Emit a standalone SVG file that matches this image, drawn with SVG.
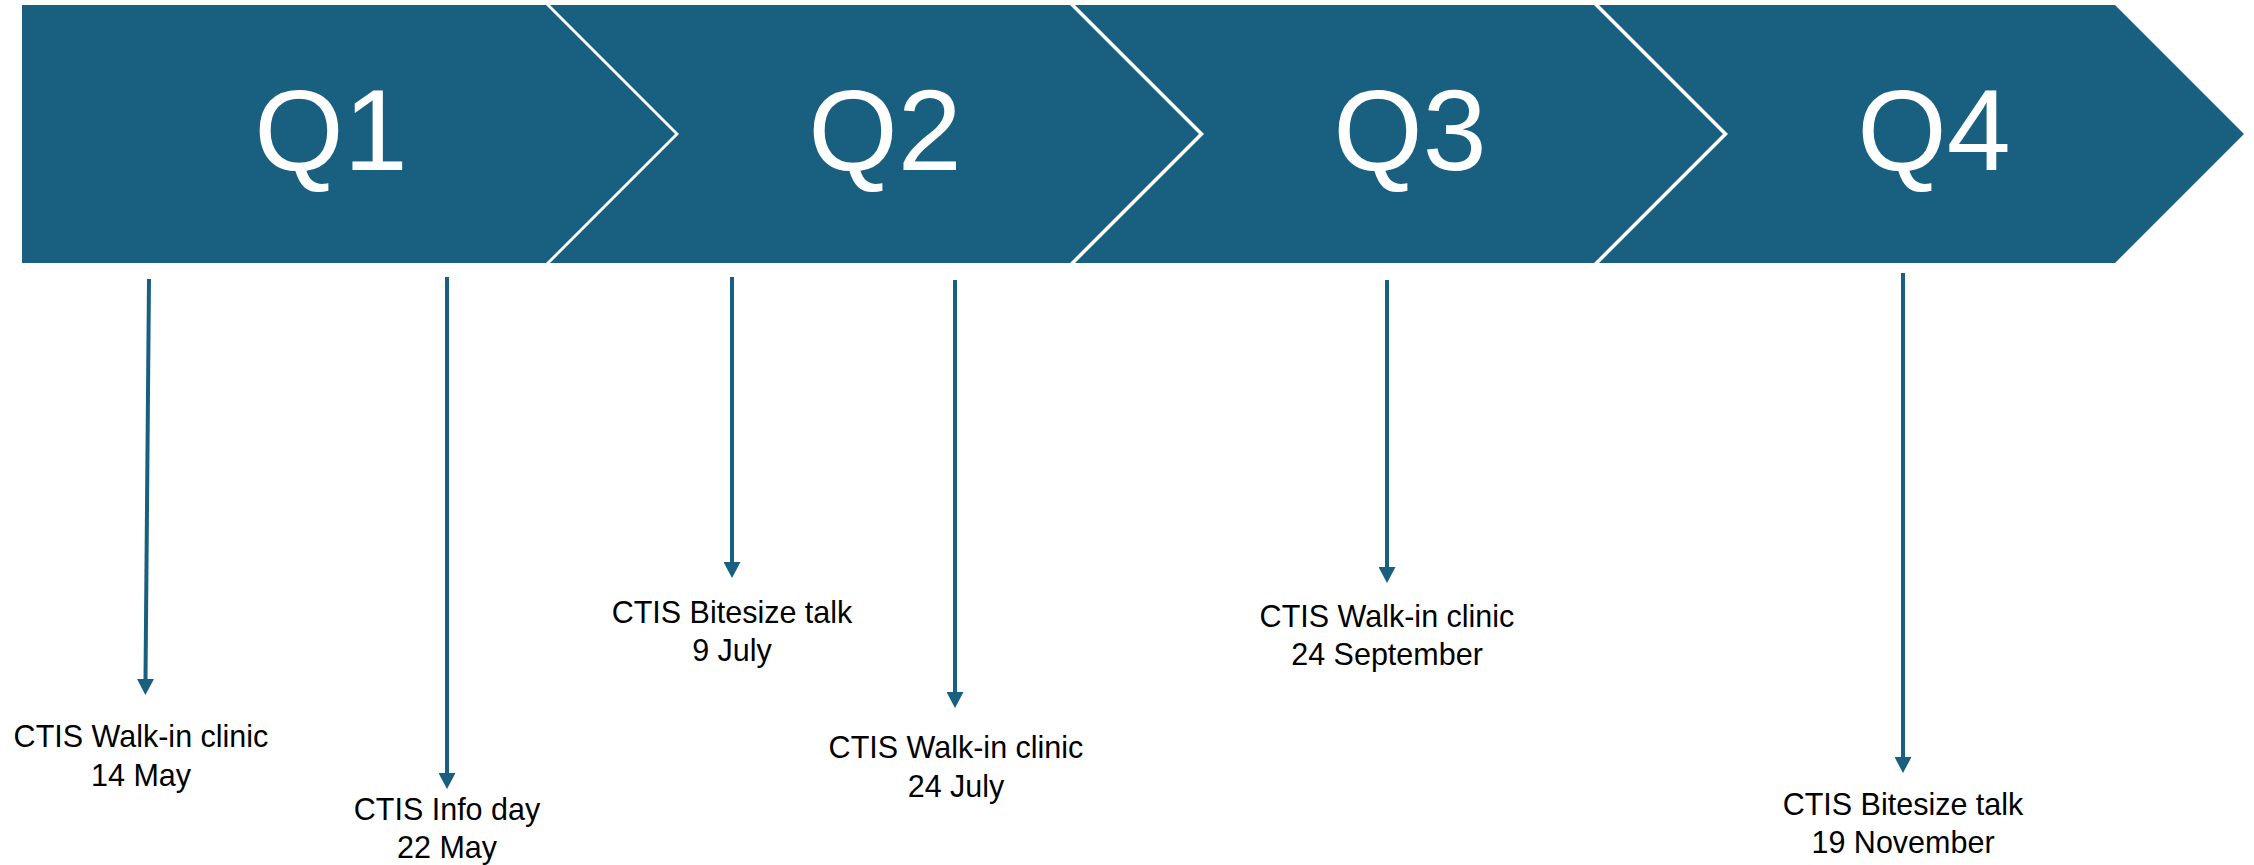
<svg xmlns="http://www.w3.org/2000/svg" width="2254" height="865" viewBox="0 0 2254 865">
  <style>
    .chev { fill: #185F80; }
    .q { font-family: "Liberation Sans", Arial, sans-serif; font-size: 115px; fill: #FFFFFF; text-anchor: middle; }
    .lbl { font-family: "Liberation Sans", Arial, sans-serif; font-size: 30.5px; fill: #000000; text-anchor: middle; }
    .conn { stroke: #185F80; stroke-width: 4; fill: none; marker-end: url(#arrow); }
  </style>
  <defs>
    <marker id="arrow" viewBox="0 0 16 17" refX="0" refY="8.5" markerWidth="16" markerHeight="17" markerUnits="userSpaceOnUse" orient="auto">
      <path d="M0,0 L16,8.5 L0,17 Z" fill="#185F80"/>
    </marker>
  </defs>
  <rect width="2254" height="865" fill="#FFFFFF"/>

  <g id="q1">
    <polygon class="chev" points="22,5 546,5 675,134 546,263 22,263"/>
    <text class="q" x="331" y="170">Q1</text>
  </g>
  <g id="q2">
    <polygon class="chev" points="550,5 1070,5 1199,134 1070,263 550,263 679,134"/>
    <text class="q" x="885" y="170">Q2</text>
  </g>
  <g id="q3">
    <polygon class="chev" points="1075,5 1594,5 1723,134 1594,263 1075,263 1204,134"/>
    <text class="q" x="1410" y="170">Q3</text>
  </g>
  <g id="q4">
    <polygon class="chev" points="1599,5 2115,5 2244,134 2115,263 1599,263 1728,134"/>
    <text class="q" x="1934" y="170">Q4</text>
  </g>

  <g id="connectors">
    <line class="conn" x1="149" y1="279" x2="145.5" y2="679"/>
    <line class="conn" x1="447" y1="277" x2="447" y2="773"/>
    <line class="conn" x1="732" y1="277" x2="732" y2="562"/>
    <line class="conn" x1="955" y1="280" x2="955" y2="692"/>
    <line class="conn" x1="1387" y1="280" x2="1387" y2="567"/>
    <line class="conn" x1="1903" y1="273" x2="1903" y2="757"/>
  </g>

  <g id="ev1">
    <text class="lbl" x="141" y="747">CTIS Walk-in clinic</text>
    <text class="lbl" x="141" y="786">14 May</text>
  </g>
  <g id="ev2">
    <text class="lbl" x="447" y="820">CTIS Info day</text>
    <text class="lbl" x="447" y="858">22 May</text>
  </g>
  <g id="ev3">
    <text class="lbl" x="732" y="623">CTIS Bitesize talk</text>
    <text class="lbl" x="732" y="661">9 July</text>
  </g>
  <g id="ev4">
    <text class="lbl" x="956" y="758">CTIS Walk-in clinic</text>
    <text class="lbl" x="956" y="797">24 July</text>
  </g>
  <g id="ev5">
    <text class="lbl" x="1387" y="627">CTIS Walk-in clinic</text>
    <text class="lbl" x="1387" y="665">24 September</text>
  </g>
  <g id="ev6">
    <text class="lbl" x="1903" y="815">CTIS Bitesize talk</text>
    <text class="lbl" x="1903" y="853">19 November</text>
  </g>
</svg>
